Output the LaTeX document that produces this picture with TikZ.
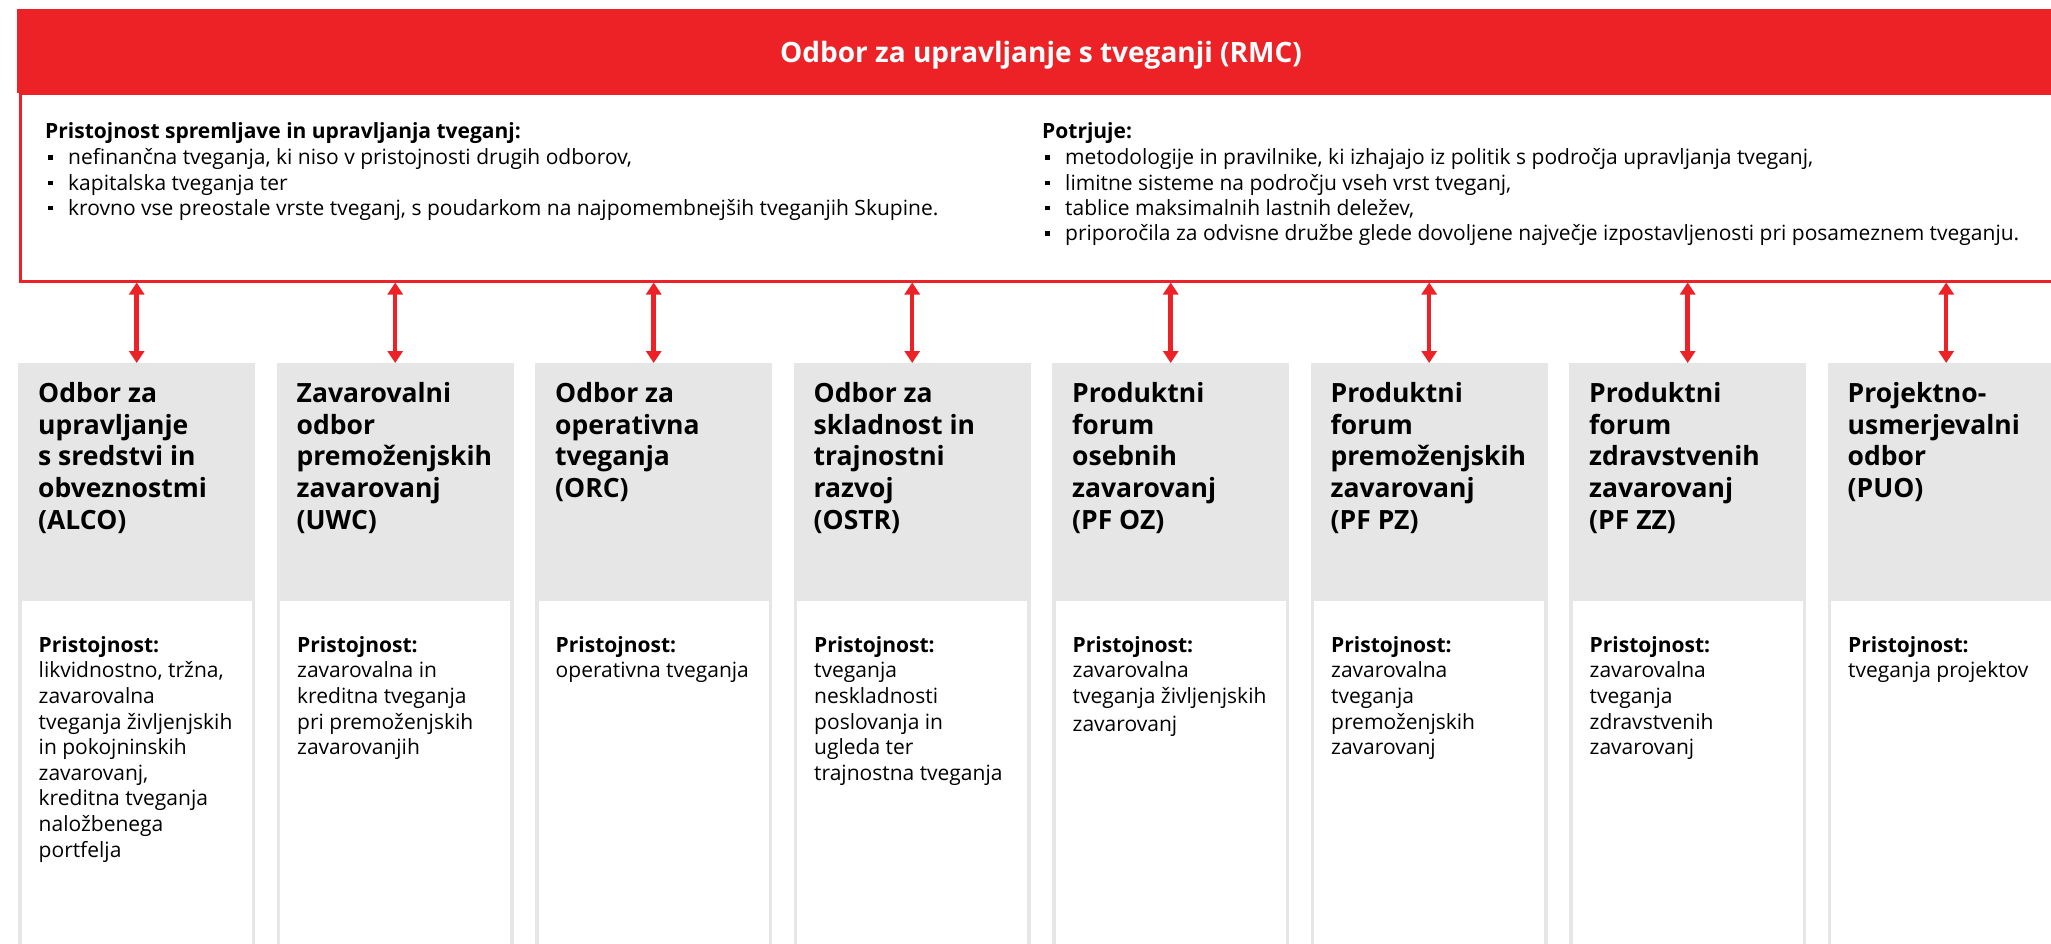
\documentclass[tikz,border=0pt]{standalone}
\usepackage{fontspec}
\setmainfont{Open Sans}
\usetikzlibrary{arrows.meta}
\definecolor{rmcred}{HTML}{EC2227}
\definecolor{colgray}{HTML}{E6E6E6}
\newcommand{\sqbul}{\makebox[23pt][l]{\hspace{3pt}\rule[5pt]{4.5pt}{4.5pt}}}
\tikzset{
  band/.style={fill=rmcred, draw=none, anchor=north west, inner sep=0pt, minimum width=2048pt, minimum height=84pt},
  rmcbox/.style={draw=rmcred, line width=3pt, fill=white, anchor=north west, inner sep=0pt, minimum width=2045pt, minimum height=187.5pt},
  titletext/.style={anchor=base, text=white, inner sep=0pt, font=\fontsize{28}{34}\selectfont\bfseries},
  toptext/.style={anchor=north west, inner sep=0pt, align=left, font=\fontsize{21}{25.2}\selectfont},
  colbox/.style={fill=colgray, draw=none, anchor=north west, inner sep=0pt, minimum width=237pt, minimum height=620pt},
  colwhite/.style={fill=white, draw=none, anchor=north west, inner sep=0pt, minimum width=230pt, minimum height=400pt},
  colhead/.style={anchor=north west, inner sep=0pt, align=left, font=\fontsize{26.5}{31.6}\selectfont\bfseries},
  colbody/.style={anchor=north west, inner sep=0pt, align=left, font=\fontsize{21}{25.6}\selectfont},
  linkarrow/.style={draw=rmcred, line width=4.5pt, {Triangle[width=15pt,length=12pt]}-{Triangle[width=15pt,length=12pt]}}
}
\begin{document}
\begin{tikzpicture}[x=1pt,y=-1pt]
\useasboundingbox (0,0) rectangle (2051,944);
\clip (0,0) rectangle (2051,944);
\fill[white] (0,0) rectangle (2051,944);

\node[rmcbox] (rmc) at (18.5,92) {};
\node[band] (band) at (17,9) {};
\node[titletext] (title) at (1041,63) {Odbor za upravljanje s tveganji (RMC)};

\node[toptext] (lefttext) at (45,120) {\rule{0pt}{18pt}\textbf{Pristojnost spremljave in upravljanja tveganj:}\\[1.5pt]
\sqbul nefinančna tveganja, ki niso v pristojnosti drugih odborov,\\
\sqbul kapitalska tveganja ter\\
\sqbul krovno vse preostale vrste tveganj, s poudarkom na najpomembnejših tveganjih Skupine.};

\node[toptext] (righttext) at (1042,120) {\rule{0pt}{18pt}\textbf{Potrjuje:}\\[1.5pt]
\sqbul metodologije in pravilnike, ki izhajajo iz politik s področja upravljanja tveganj,\\
\sqbul limitne sisteme na področju vseh vrst tveganj,\\
\sqbul tablice maksimalnih lastnih deležev,\\
\sqbul priporočila za odvisne družbe glede dovoljene največje izpostavljenosti pri posameznem tveganju.};

\foreach \i/\head/\body in {
 1/{Odbor za\\upravljanje\\s sredstvi in\\obveznostmi\\(ALCO)}/{likvidnostno, tržna,\\zavarovalna\\tveganja življenjskih\\in pokojninskih\\zavarovanj,\\kreditna tveganja\\naložbenega\\portfelja},
 2/{Zavarovalni\\odbor\\premoženjskih\\zavarovanj\\(UWC)}/{zavarovalna in\\kreditna tveganja\\pri premoženjskih\\zavarovanjih},
 3/{Odbor za\\operativna\\tveganja\\(ORC)}/{operativna tveganja},
 4/{Odbor za\\skladnost in\\trajnostni\\razvoj\\(OSTR)}/{tveganja\\neskladnosti\\poslovanja in\\ugleda ter\\trajnostna tveganja},
 5/{Produktni\\forum\\osebnih\\zavarovanj\\(PF OZ)}/{zavarovalna\\tveganja življenjskih\\[2pt]zavarovanj},
 6/{Produktni\\forum\\premoženjskih\\zavarovanj\\(PF PZ)}/{zavarovalna\\tveganja\\premoženjskih\\zavarovanj},
 7/{Produktni\\forum\\zdravstvenih\\zavarovanj\\(PF ZZ)}/{zavarovalna\\tveganja\\zdravstvenih\\zavarovanj},
 8/{Projektno-\\usmerjevalni\\odbor\\(PUO)}/{tveganja projektov}}{
  \pgfmathsetmacro{\xl}{18+(\i-1)*258.5}
  \node[colbox] (c\i) at (\xl,363) {};
  \node[colwhite] (w\i) at (\xl+3.5,601) {};
  \node[colhead] (h\i) at (\xl+20,377.5) {\rule{0pt}{25pt}\head};
  \node[colbody] (b\i) at (\xl+20.5,632) {\rule{0pt}{20pt}\textbf{Pristojnost:}\\\body};
  \draw[linkarrow] (rmc.south -| c\i.north) -- (c\i.north);
}
\end{tikzpicture}
\end{document}
